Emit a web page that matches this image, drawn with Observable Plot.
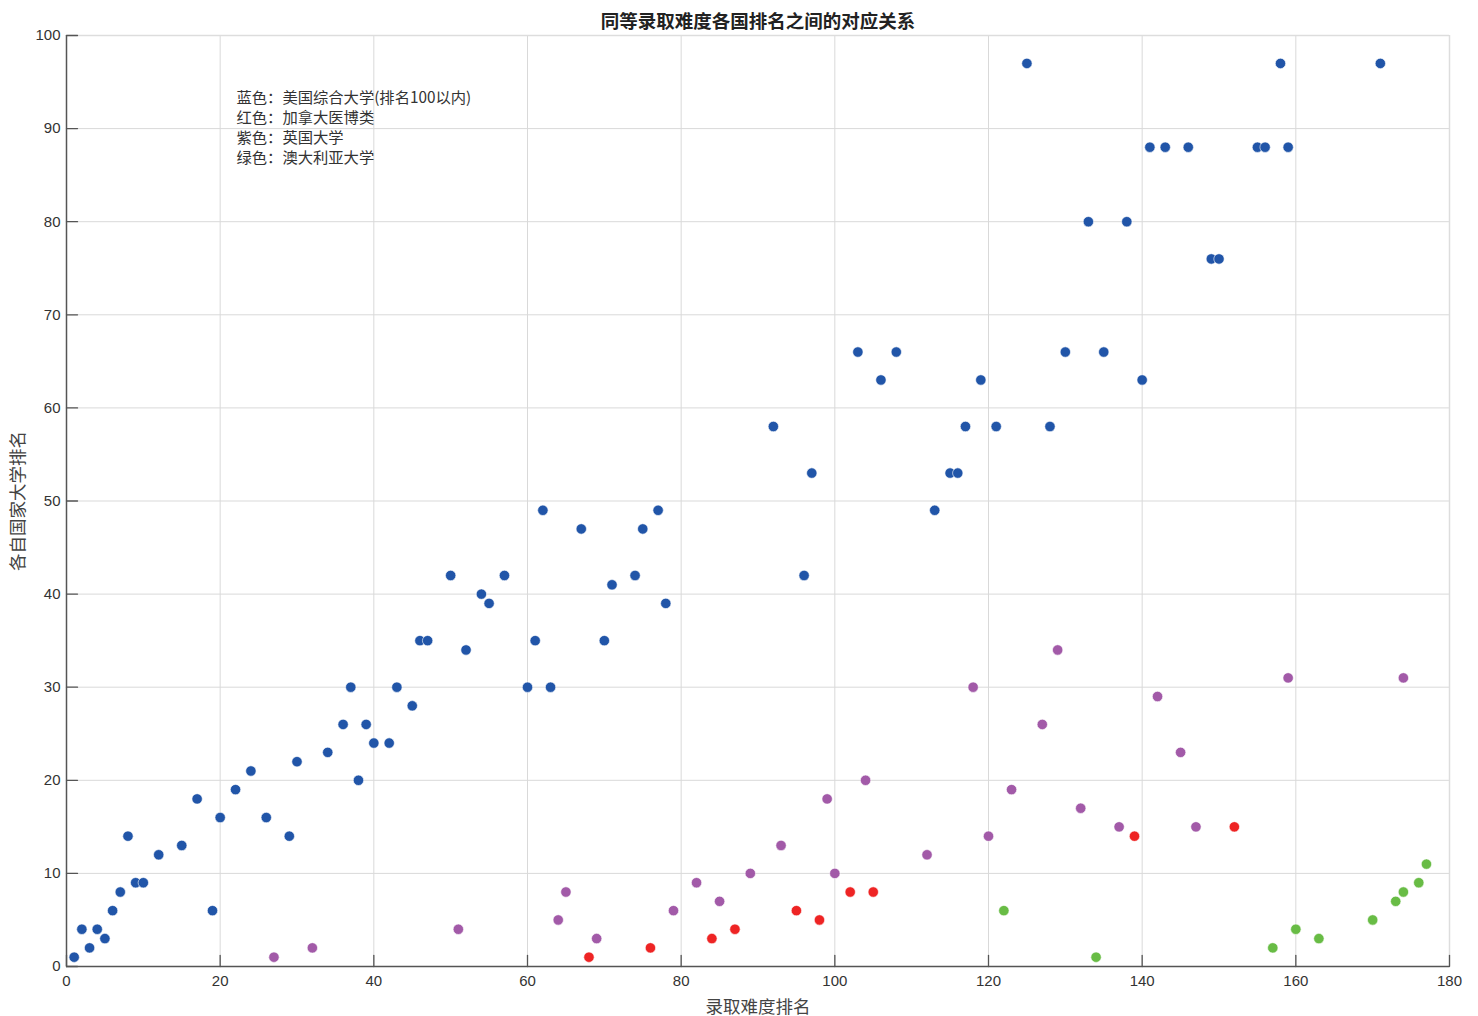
<!DOCTYPE html>
<html>
<head>
<meta charset="utf-8">
<script src="https://cdn.jsdelivr.net/npm/d3@7"></script>
<script src="https://cdn.jsdelivr.net/npm/@observablehq/plot@0.6"></script>
<style>
  html, body { margin: 0; padding: 0; background: #fff; }
</style>
</head>
<body>
<div id="chart"></div>
<script>
// ---- data (x = 录取难度排名, y = 各自国家大学排名) ----
const blueX = [1,2,3,4,5,6,7,8,9,10,12,15,17,19,20,22,24,26,29,30,34,36,37,38,39,40,42,43,45,46,47,50,52,54,55,57,60,61,62,63,67,70,71,74,75,77,78,92,96,97,103,106,108,113,115,116,117,119,121,125,128,130,133,135,138,140,141,143,146,149,150,155,156,158,159,171];
const blueY = [1,4,2,4,3,6,8,14,9,9,12,13,18,6,16,19,21,16,14,22,23,26,30,20,26,24,24,30,28,35,35,42,34,40,39,42,30,35,49,30,47,35,41,42,47,49,39,58,42,53,66,63,66,49,53,53,58,63,58,97,58,66,80,66,80,63,88,88,88,76,76,88,88,97,88,97];

const redX = [68,76,84,87,95,98,102,105,139,152];
const redY = [1,2,3,4,6,5,8,8,14,15];

const purpleX = [27,32,51,64,65,69,79,82,85,89,93,99,100,104,112,118,120,123,127,129,132,137,142,145,147,159,174];
const purpleY = [1,2,4,5,8,3,6,9,7,10,13,18,10,20,12,30,14,19,26,34,17,15,29,23,15,31,31];

const greenX = [122,134,157,160,163,170,173,174,176,177];
const greenY = [6,1,2,4,3,5,7,8,9,11];

const xTicks = [0,20,40,60,80,100,120,140,160,180];
const yTicks = [0,10,20,30,40,50,60,70,80,90,100];

const title = "同等录取难度各国排名之间的对应关系";
const xLabel = "录取难度排名";
const yLabel = "各自国家大学排名";
const noteLines = ["蓝色：美国综合大学(排名100以内)", "红色：加拿大医博类", "紫色：英国大学", "绿色：澳大利亚大学"];

const groups = [
  {name: "美国", xs: blueX, ys: blueY, color: "#2155a8"},
  {name: "加拿大", xs: redX, ys: redY, color: "#ee2424"},
  {name: "英国", xs: purpleX, ys: purpleY, color: "#a25aa8"},
  {name: "澳大利亚", xs: greenX, ys: greenY, color: "#68bc45"}
];
const points = groups.flatMap(g => g.xs.map((x, i) => ({x, y: g.ys[i], group: g.name})));

const font = "'Liberation Sans', Arial, 'Noto Sans CJK SC', sans-serif";
const cjk = "'Noto Sans CJK SC', 'Liberation Sans', sans-serif";

// plain tick line (no arrow head)
const lineShape = {draw(context, l) { context.moveTo(0, 0); context.lineTo(0, -l); }};

const chart = Plot.plot({
  width: 1478,
  height: 1016,
  marginLeft: 66,
  marginRight: 29,
  marginTop: 35,
  marginBottom: 50,
  style: {fontFamily: font, fontSize: "15px", color: "#333", background: "#fff"},
  x: {domain: [0, 180], ticks: xTicks},
  y: {domain: [0, 100], ticks: yTicks},
  color: {domain: groups.map(g => g.name), range: groups.map(g => g.color)},
  marks: [
    Plot.gridX(xTicks, {stroke: "#d9d9d9", strokeOpacity: 1}),
    Plot.gridY(yTicks, {stroke: "#d9d9d9", strokeOpacity: 1}),
    Plot.ruleY([100], {stroke: "#dddddd", strokeWidth: 1.5}),
    Plot.ruleX([180], {stroke: "#dddddd", strokeWidth: 1.5}),
    Plot.ruleY([0], {stroke: "#555", strokeWidth: 1.5}),
    Plot.ruleX([0], {stroke: "#555", strokeWidth: 1.5}),
    Plot.vector(xTicks, {x: d => d, frameAnchor: "bottom", length: 11, rotate: 0, anchor: "start", shape: lineShape, stroke: "#555", strokeWidth: 1.3}),
    Plot.vector(yTicks, {y: d => d, frameAnchor: "left", length: 11, rotate: 90, anchor: "start", shape: lineShape, stroke: "#555", strokeWidth: 1.3}),
    Plot.axisX(xTicks, {tickSize: 0, tickPadding: 9, fontSize: 15, fill: "#333", label: null}),
    Plot.axisY(yTicks, {tickSize: 0, tickPadding: 6, fontSize: 15, fill: "#333", label: null}),
    Plot.dot(points, {x: "x", y: "y", fill: "group", r: 5.2, stroke: "white", strokeWidth: 0.6}),
    Plot.text([title], {frameAnchor: "top", dy: -21, fontSize: 18.5, fontWeight: "bold", fill: "#222", fontFamily: cjk}),
    Plot.text([xLabel], {frameAnchor: "bottom", dy: 46, fontSize: 17.5, fill: "#444", fontFamily: cjk}),
    Plot.text([yLabel], {frameAnchor: "left", dx: -48, rotate: -90, textAnchor: "middle", fontSize: 17.5, fill: "#444", fontFamily: cjk}),
    Plot.text([noteLines.join("\n")], {frameAnchor: "top-left", dx: 170, dy: 53, lineAnchor: "top", textAnchor: "start", lineHeight: 1.307, fontSize: 15.3, fill: "#333", fontFamily: cjk})
  ]
});
document.getElementById("chart").appendChild(chart);
</script>
</body>
</html>
